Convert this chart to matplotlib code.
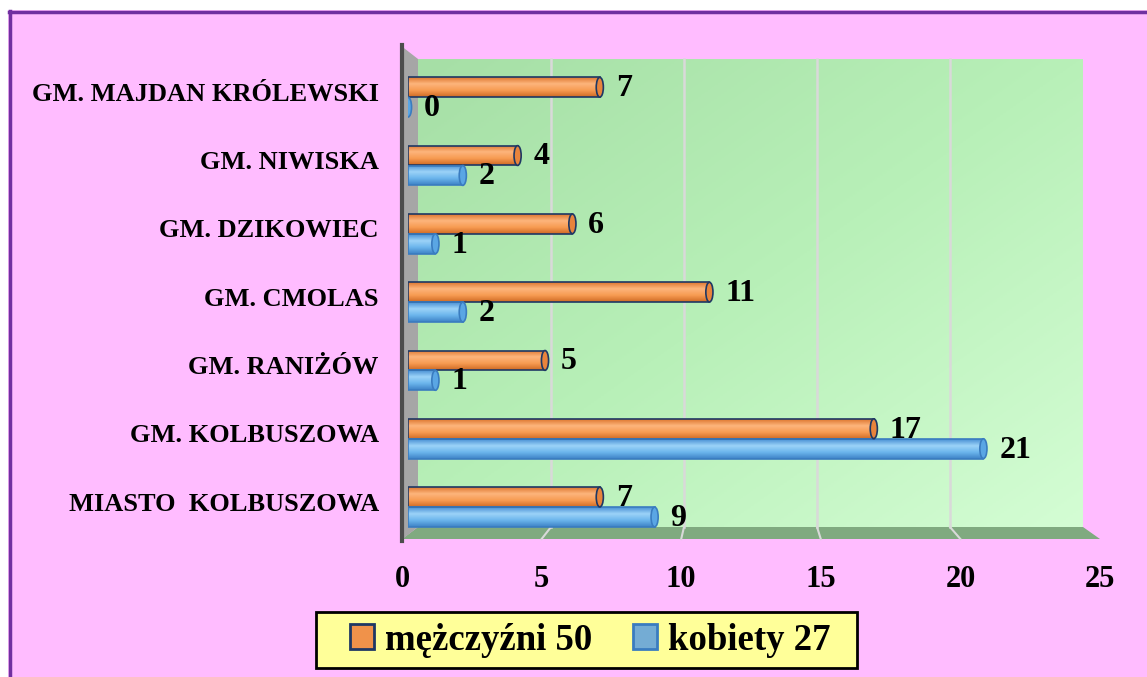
import matplotlib
matplotlib.use('Agg')
import matplotlib.pyplot as plt
import numpy as np
from matplotlib.patches import Polygon, Rectangle, Ellipse, Patch
from matplotlib.colors import LinearSegmentedColormap

plt.rcParams['font.family'] = ['Liberation Serif', 'DejaVu Serif']
plt.rcParams['font.weight'] = 'bold'

# dane
gminy = ['MIASTO  KOLBUSZOWA', 'GM. KOLBUSZOWA', 'GM. RANIŻÓW', 'GM. CMOLAS',
         'GM. DZIKOWIEC', 'GM. NIWISKA', 'GM. MAJDAN KRÓLEWSKI']
mezczyzni = [7, 17, 5, 11, 6, 4, 7]
kobiety = [9, 21, 1, 2, 1, 2, 0]
seria_m = 'mężczyźni 50'
seria_k = 'kobiety 27'
x_ticks = [0, 5, 10, 15, 20, 25]

W, H = 1147, 677
fig = plt.figure(figsize=(W / 100, H / 100), dpi=100, facecolor='white')

# tlo, sciany, podloga (w pikselach)
bg = fig.add_axes([0, 0, 1, 1])
bg.set_xlim(0, W)
bg.set_ylim(H, 0)
bg.axis('off')
bg.add_patch(Rectangle((8, 10), W, H, facecolor='#FFBCFF', edgecolor='none'))
bg.plot([9.5, 9.5], [11, H], color='#7030A0', lw=2.5)
bg.plot([9, W], [11.5, 11.5], color='#7030A0', lw=2.5)

wl, wr, wt, wb = 418, 1083, 59, 527
fl, fr, fb = 402, 1100, 539
gx = np.linspace(0, 1, 200)
gy = np.linspace(0, 1, 200)
GX, GY = np.meshgrid(gx, gy)
green = LinearSegmentedColormap.from_list('g', ['#A6DFA6', '#B8F0B8', '#D4FDD4'])
bg.imshow((GX + (1 - GY)) / 2, cmap=green, extent=(wl, wr, wb, wt),
          aspect='auto', origin='lower', zorder=1)
bg.add_patch(Polygon([(wl, wb), (wr, wb), (fr, fb), (fl, fb)],
                     facecolor='#80AA80', edgecolor='none', zorder=2))
for t in x_ticks[1:-1]:
    xb = wl + t * (wr - wl) / 25
    xf = fl + t * (fr - fl) / 25
    bg.plot([xb, xb], [wt, wb], color='#D9D9D9', lw=1.8, zorder=2)
    bg.plot([xb, xf], [wb, fb], color='#D9D9D9', lw=1.5, zorder=3)
bg.add_patch(Polygon([(400, 45), (wl, wt), (wl, wb), (400, fb + 2)],
                     facecolor='#A6A6A6', edgecolor='none', zorder=3))
bg.plot([401.5, 401.5], [45, fb + 2], color='#4D4D4D', lw=3, zorder=4)

# ramka legendy
bg.add_patch(Rectangle((316, 612), 541, 56, facecolor='#FFFF99',
                       edgecolor='black', lw=2, zorder=5))

# os z wykresem slupkowym
px0, px1, py_top, py_bot = 408, 1093, 45, 539
ax = fig.add_axes([px0 / W, 1 - py_bot / H, (px1 - px0) / W, (py_bot - py_top) / H])
ax.set_facecolor('none')
for s in ax.spines.values():
    s.set_visible(False)
ylo, yhi = (507 - py_bot) / 68.3, (507 - py_top) / 68.3

y = np.arange(len(gminy))
h = 0.29
d = 0.146

cm_m = LinearSegmentedColormap.from_list('m', ['#DE772F', '#FDB57C', '#F79B52', '#CF6B25'])
cm_k = LinearSegmentedColormap.from_list('k', ['#4990D4', '#9CD3F8', '#6BB5EC', '#3E82C6'])
grad = np.linspace(0, 1, 60).reshape(-1, 1)

def cylinders(vals, yy, cmap, edge, cap):
    bars = ax.barh(yy, vals, height=h, facecolor='none', edgecolor=edge, lw=1.2, zorder=4)
    for p, v in zip(bars.patches, vals):
        x0, y0 = p.get_x(), p.get_y()
        if v > 0:
            im = ax.imshow(grad, cmap=cmap, extent=(x0, x0 + p.get_width(), y0, y0 + h),
                           aspect='auto', origin='upper', zorder=3)
            im.set_clip_path(p)
        ax.add_patch(Ellipse((x0 + p.get_width(), y0 + h / 2), 0.26, h,
                             facecolor=cap, edgecolor=edge, lw=1.2, zorder=5))
        ax.text(v + 0.58, y0 + h / 2 - 0.02, str(v), ha='left', va='center',
                fontsize=23, fontweight='bold', zorder=6)

cylinders(mezczyzni, y + d, cm_m, '#1F3864', '#E8843C')
cylinders(kobiety, y - d, cm_k, '#3A7CC0', '#5AA6E4')

ax.set_xlim(0, 25)
ax.set_ylim(ylo, yhi)
ax.set_xticks([])
ax.set_yticks(y + 0.08)
ax.set_yticklabels(gminy, fontsize=19, fontweight='bold')
ax.tick_params(axis='y', length=0, pad=21)

# skala na przedniej krawedzi
fa = fig.add_axes([fl / W, 1 - 548 / H, (fr - fl) / W, 0.001])
fa.set_facecolor('none')
for s in fa.spines.values():
    s.set_visible(False)
fa.set_xlim(0, 25)
fa.set_xticks(x_ticks)
fa.set_xticklabels([str(t) for t in x_ticks], fontsize=22, fontweight='bold')
fa.set_yticks([])
fa.tick_params(axis='x', length=0, pad=12)

# legenda
handles = [Patch(facecolor='#F0924A', edgecolor='#1F3864', lw=2),
           Patch(facecolor='#74ACD4', edgecolor='#3A7CC0', lw=2)]
leg = fig.legend(handles, [seria_m, seria_k], loc='center', ncol=2,
                 bbox_to_anchor=(590 / W, 1 - 640 / H), frameon=False,
                 prop={'family': 'Liberation Serif', 'weight': 'bold', 'size': 26.5},
                 handlelength=0.65, handleheight=0.65, handletextpad=0.3,
                 columnspacing=1.1, borderpad=0.25, borderaxespad=0)

fig.savefig('out.png', dpi=100, facecolor=fig.get_facecolor())
